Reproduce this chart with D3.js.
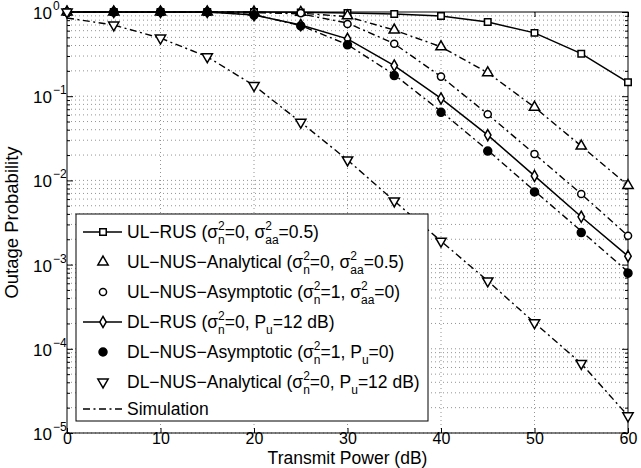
<!DOCTYPE html>
<html>
<head>
<meta charset="utf-8">
<script src="https://cdn.jsdelivr.net/npm/d3@7"></script>
<style>
  body { margin: 0; background: #fff; }
  svg text { font-family: "Liberation Sans", Arial, Helvetica, sans-serif; fill: #000; }
</style>
</head>
<body>
<svg width="641" height="468"></svg>
<script>
// transmit power (dB)
var power = [0, 5, 10, 15, 20, 25, 30, 35, 40, 45, 50, 55, 60];

// outage probability
var ulRus          = [1, 1, 1, 1, 1, 0.99, 0.973, 0.947, 0.897, 0.762, 0.565, 0.32, 0.146];
var ulNusAnalytic  = [1, 1, 1, 1, 1, 0.99, 0.9, 0.61, 0.386, 0.19, 0.074, 0.0256, 0.0087];
var ulNusAsymp     = [1, 1, 1, 1, 1, 0.97, 0.72, 0.42, 0.171, 0.061, 0.0206, 0.0069, 0.0022];
var dlRus          = [1, 1, 1, 1, 0.92, 0.70, 0.48, 0.231, 0.094, 0.0345, 0.0113, 0.0037, 0.00126];
var dlNusAsymp     = [null, 1, 1, 1, 0.92, 0.684, 0.408, 0.176, 0.0644, 0.0223, 0.0073, 0.0024, 0.00079];
var dlNusAnalytic  = [1, 0.70, 0.49, 0.294, 0.134, 0.049, 0.0175, 0.0057, 0.0019, 0.00064, 0.000204, 0.000067, 0.000016];

// simulation curves (dash-dot)
var simUlNus1 = [1, 1, 1, 1, 0.99, 0.97, 0.88, 0.61, 0.386, 0.19, 0.074, 0.0256, 0.0087];
var simUlNus2 = [1, 1, 1, 1, 0.99, 0.95, 0.74, 0.42, 0.171, 0.061, 0.0206, 0.0069, 0.0022];
var simDlNus1 = [1, 1, 1, 1, 0.93, 0.69, 0.41, 0.18, 0.066, 0.0228, 0.0075, 0.0025, 0.00082];
var simDlNus2 = [0.85, 0.70, 0.49, 0.294, 0.134, 0.049, 0.0175, 0.0057, 0.0019, 0.00064, 0.000204, 0.000067, 0.000016];

var xTicks = [0, 10, 20, 30, 40, 50, 60];
var yExps = [0, -1, -2, -3, -4, -5];

var legendLabels = [
  ["UL\u2212RUS (\u03c3", ["2", "n"], "=0, \u03c3", ["2", "aa"], "=0.5)"],
  ["UL\u2212NUS\u2212Analytical (\u03c3", ["2", "n"], "=0, \u03c3", ["2", "aa"], "=0.5)"],
  ["UL\u2212NUS\u2212Asymptotic (\u03c3", ["2", "n"], "=1, \u03c3", ["2", "aa"], "=0)"],
  ["DL\u2212RUS (\u03c3", ["2", "n"], "=0, P", ["", "u"], "=12 dB)"],
  ["DL\u2212NUS\u2212Asymptotic (\u03c3", ["2", "n"], "=1, P", ["", "u"], "=0)"],
  ["DL\u2212NUS\u2212Analytical (\u03c3", ["2", "n"], "=0, P", ["", "u"], "=12 dB)"],
  ["Simulation"]
];

var svg = d3.select("svg");
var mL = 67, mR = 628, mT = 12, mB = 433;

var x = d3.scaleLinear().domain([0, 60]).range([mL, mR]);
var y = d3.scaleLog().domain([1e-5, 1]).range([mB, mT]);

//////////////////////////
// grid
//////////////////////////
var grid = svg.append("g").attr("stroke", "#777").attr("stroke-width", 0.8).attr("stroke-dasharray", "1,3");
var gridY = [];
yExps.forEach(function(e) {
  if (e === 0) return;
  for (var m = 1; m <= 9; m++) gridY.push(m * Math.pow(10, e));
});
grid.selectAll("line.gy").data(gridY).enter().append("line")
  .attr("x1", mL).attr("x2", mR)
  .attr("y1", function(d) { return y(d); }).attr("y2", function(d) { return y(d); });
grid.selectAll("line.gx").data(xTicks.slice(1, -1)).enter().append("line")
  .attr("y1", mT).attr("y2", mB)
  .attr("x1", function(d) { return x(d); }).attr("x2", function(d) { return x(d); });

//////////////////////////
// axes (box with inward ticks)
//////////////////////////
var axB = svg.append("g").attr("transform", "translate(0," + mB + ")")
  .call(d3.axisBottom(x).tickValues(xTicks).tickSizeInner(-5).tickSizeOuter(0).tickPadding(0));
var axT = svg.append("g").attr("transform", "translate(0," + mT + ")")
  .call(d3.axisTop(x).tickValues(xTicks).tickSizeInner(-5).tickSizeOuter(0).tickFormat(""));
axB.selectAll("text").attr("font-family", null).attr("font-size", null).style("font-size", "16px");

var yTickVals = gridY.concat([1]);
var axL = svg.append("g").attr("transform", "translate(" + mL + ",0)")
  .call(d3.axisLeft(y).tickValues(yTickVals).tickSizeOuter(0).tickFormat(""));
var axR = svg.append("g").attr("transform", "translate(" + mR + ",0)")
  .call(d3.axisRight(y).tickValues(yTickVals).tickSizeOuter(0).tickFormat(""));
[axL, axR].forEach(function(a) {
  var s = a === axL ? 1 : -1;
  a.selectAll(".tick line").attr("x2", function(d) {
    var major = Math.abs(Math.log10(d) - Math.round(Math.log10(d))) < 1e-9;
    return s * (major ? 6 : 3);
  });
});
svg.selectAll(".domain").remove();
svg.selectAll(".tick line").attr("stroke", "#000");
svg.append("rect").attr("x", mL).attr("y", mT).attr("width", mR - mL).attr("height", mB - mT)
  .attr("fill", "none").attr("stroke", "#000").attr("stroke-width", 1);

// y tick labels 10^e
var yl = svg.append("g");
yExps.forEach(function(e) {
  var yy = y(Math.pow(10, e));
  yl.append("text").attr("x", 52).attr("y", yy + 7).attr("text-anchor", "end").style("font-size", "17px").text("10");
  yl.append("text").attr("x", 53).attr("y", yy - 2).style("font-size", "12px").text(e === 0 ? "0" : "\u2212" + (-e));
});

// axis titles
svg.append("text").attr("x", (mL + mR) / 2).attr("y", 464).attr("text-anchor", "middle")
  .style("font-size", "17.5px").text("Transmit Power (dB)");
svg.append("text").attr("transform", "translate(18," + (mT + mB) / 2 + ") rotate(-90)")
  .attr("text-anchor", "middle").style("font-size", "18.5px").text("Outage Probability");

//////////////////////////
// curves
//////////////////////////
function pts(vals) {
  return power.map(function(p, i) { return [p, vals[i]]; }).filter(function(d) { return d[1] != null; });
}
var line = d3.line().x(function(d) { return x(d[0]); }).y(function(d) { return y(d[1]); });
var curves = svg.append("g").attr("fill", "none").attr("stroke", "#000");

[simUlNus1, simUlNus2, simDlNus1, simDlNus2].forEach(function(s) {
  curves.append("path").datum(pts(s)).attr("d", line)
    .attr("stroke-width", 1.4).attr("stroke-dasharray", "7,3.5,2,3.5");
});
[ulRus, dlRus].forEach(function(s) {
  curves.append("path").datum(pts(s)).attr("d", line).attr("stroke-width", 1.5);
});

var markerSets = [
  { vals: ulRus, sym: d3.symbolSquare, size: 42, fill: "#fff", rot: 0 },
  { vals: ulNusAnalytic, sym: d3.symbolTriangle, size: 46, fill: "#fff", rot: 0 },
  { vals: ulNusAsymp, sym: d3.symbolCircle, size: 40, fill: "#fff", rot: 0 },
  { vals: dlRus, sym: d3.symbolDiamond, size: 36, fill: "#fff", rot: 0 },
  { vals: dlNusAsymp, sym: d3.symbolCircle, size: 50, fill: "#000", rot: 0 },
  { vals: dlNusAnalytic, sym: d3.symbolTriangle, size: 46, fill: "#fff", rot: 180 }
];
markerSets.forEach(function(m) {
  svg.append("g").selectAll("path").data(pts(m.vals)).enter().append("path")
    .attr("d", d3.symbol().type(m.sym).size(m.size))
    .attr("transform", function(d) { return "translate(" + x(d[0]) + "," + y(d[1]) + ") rotate(" + m.rot + ")"; })
    .attr("fill", m.fill).attr("stroke", "#000").attr("stroke-width", 1.5);
});

//////////////////////////
// legend
//////////////////////////
var lg = svg.append("g");
lg.append("rect").attr("x", 76).attr("y", 214).attr("width", 352).attr("height", 207)
  .attr("fill", "#fff").attr("stroke", "#000").attr("stroke-width", 1);

var rowY = [232, 262, 292, 322, 352, 382, 409];
function richText(g, x0, y0, parts) {
  var cx = x0;
  parts.forEach(function(p) {
    if (typeof p === "string") {
      var t = g.append("text").attr("x", cx).attr("y", y0).style("font-size", "17.5px").text(p);
      cx += t.node().getComputedTextLength();
    } else {
      var w = 0;
      if (p[0]) {
        var s = g.append("text").attr("x", cx).attr("y", y0 - 8).style("font-size", "12px").text(p[0]);
        w = s.node().getComputedTextLength();
      }
      var b = g.append("text").attr("x", cx).attr("y", y0 + 6).style("font-size", "12px").text(p[1]);
      w = Math.max(w, b.node().getComputedTextLength());
      cx += w;
    }
  });
}
legendLabels.forEach(function(lab, i) {
  richText(lg, 127, rowY[i] + 6, lab);
});
// line samples
lg.selectAll("line.s").data([0, 3]).enter().append("line")
  .attr("x1", 83).attr("x2", 122)
  .attr("y1", function(i) { return rowY[i]; }).attr("y2", function(i) { return rowY[i]; })
  .attr("stroke", "#000").attr("stroke-width", 1.5);
lg.append("line").attr("x1", 83).attr("x2", 122).attr("y1", rowY[6]).attr("y2", rowY[6])
  .attr("stroke", "#000").attr("stroke-width", 1.4).attr("stroke-dasharray", "7,3.5,2,3.5");
markerSets.forEach(function(m, i) {
  lg.append("path").attr("d", d3.symbol().type(m.sym).size(m.size))
    .attr("transform", "translate(103," + rowY[i] + ") rotate(" + m.rot + ")")
    .attr("fill", m.fill).attr("stroke", "#000").attr("stroke-width", 1.5);
});
</script>
</body>
</html>
